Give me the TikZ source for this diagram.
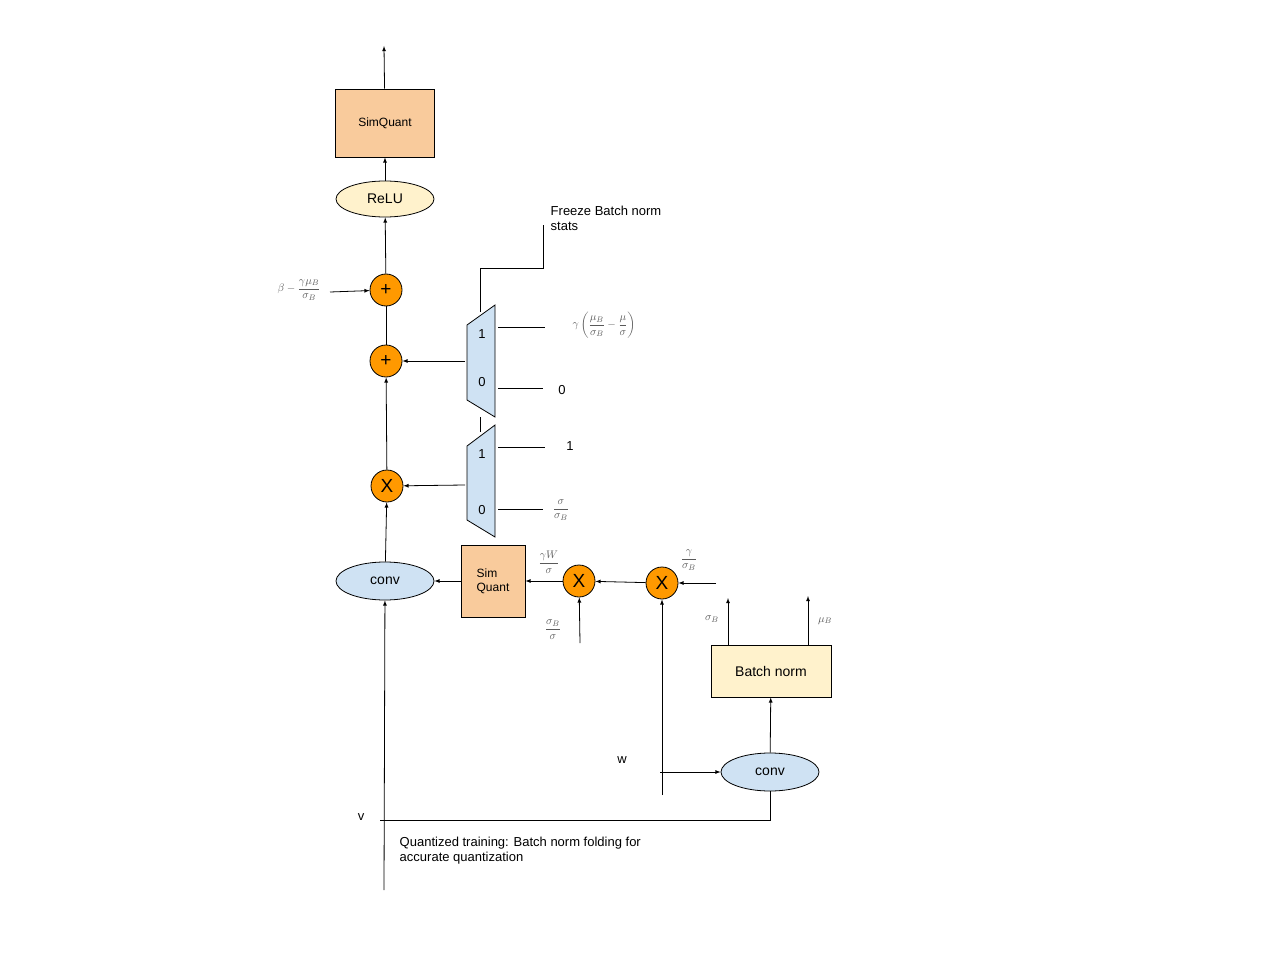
\documentclass[tikz,border=0pt]{standalone}
\usepackage{amsmath}
\usepackage{fontspec}
\setmainfont{Liberation Sans}
\usetikzlibrary{shapes.geometric}
\definecolor{quantfill}{HTML}{F9CB9C}
\definecolor{opfill}{HTML}{FF9900}
\definecolor{bnfill}{HTML}{FFF2CC}
\definecolor{convfill}{HTML}{CFE2F3}
\tikzset{
  qbox/.style={draw, fill=quantfill, font=\fontsize{12}{14}\selectfont},
  opnode/.style={draw, circle, fill=opfill, minimum size=32pt, inner sep=0pt, font=\fontsize{19}{20}\selectfont},
  convnode/.style={draw, ellipse, fill=convfill, minimum width=98pt, minimum height=38pt, inner sep=0pt, font=\fontsize{14}{16}\selectfont},
  mlabel/.style={text=gray!70!black, font=\fontsize{11}{12}\selectfont},
  plain/.style={font=\fontsize{13}{15}\selectfont},
  arr/.style={-latex}
}
\begin{document}
\begin{tikzpicture}[x=1pt, y=-1pt, line width=0.8pt, >=latex]
  \useasboundingbox (0,0) rectangle (1280,960);
  % main column
  \node[qbox, minimum width=99pt, minimum height=68pt] (sq) at (385,123) {SimQuant};
  \coordinate (out) at (384,46);
  \node[draw, ellipse, fill=bnfill, minimum width=98pt, minimum height=36pt, inner sep=0pt, font=\fontsize{14}{16}\selectfont] (relu) at (385,199) {ReLU};
  \node[opnode] (addb) at (386,290) {+};
  \node[opnode] (adds) at (386,361) {+};
  \node[opnode] (mulv) at (387,486) {X};
  \node[convnode] (convv) at (385,581) {conv};
  \draw[arr] (sq) -- (out);
  \draw[arr] (relu) -- (sq);
  \draw[arr] (addb) -- (relu);
  \draw (adds) -- (addb);
  \draw[arr] (mulv) -- (adds);
  \draw[arr] (convv) -- (mulv);
  \node[mlabel] (bias) at (299,290) {$\beta-\dfrac{\gamma\mu_B}{\sigma_B}$};
  \draw[arr] (330,292) -- (addb);
  % multiplexers
  \draw[fill=convfill] (467,325) -- (495,305) -- (495,417) -- (467,400) -- cycle;
  \draw[fill=convfill] (467,446) -- (495,425) -- (495,537) -- (467,520) -- cycle;
  \node[plain] (ma1) at (482,334) {1};
  \node[plain] (ma0) at (482,382) {0};
  \node[plain] (mb1) at (482,454) {1};
  \node[plain] (mb0) at (482,510) {0};
  \coordinate (muxa) at (465,361);
  \coordinate (muxb) at (465,485);
  \draw[arr] (muxa) -- (adds);
  \draw[arr] (muxb) -- (mulv);
  \draw (480,417) -- (480,432);
  \draw (480,312) -- (480,268) -- (543,268) -- (543,225);
  \node[plain, align=left, anchor=north west] (freeze) at (547,202) {Freeze Batch norm\\stats};
  \node[mlabel] (ina1) at (604,325) {$\gamma\left(\dfrac{\mu_B}{\sigma_B}-\dfrac{\mu}{\sigma}\right)$};
  \node[plain] (ina0) at (562,390) {0};
  \node[plain] (inb1) at (570,446) {1};
  \node[mlabel] (inb0) at (561,510) {$\dfrac{\sigma}{\sigma_B}$};
  \draw (498,327) -- (545,327);
  \draw (498,388) -- (543,388);
  \draw (498,447) -- (545,447);
  \draw (498,509) -- (543,509);
  % weight path
  \node[qbox, minimum width=64pt, minimum height=72pt, align=left] (sqw) at (493,581) {Sim\\Quant};
  \node[opnode] (mulw) at (579,581) {X};
  \node[opnode] (mulg) at (662,583) {X};
  \draw[arr] (sqw) -- (convv);
  \draw[arr] (mulw) -- (sqw);
  \draw[arr] (mulg) -- (mulw);
  \node[mlabel] (gw) at (549,562) {$\dfrac{\gamma W}{\sigma}$};
  \node[mlabel] (gs) at (689,560) {$\dfrac{\gamma}{\sigma_B}$};
  \node[mlabel] (ss) at (553,630) {$\dfrac{\sigma_B}{\sigma}$};
  \coordinate (gin) at (716,583);
  \coordinate (sin) at (580,643);
  \draw[arr] (gin) -- (mulg);
  \draw[arr] (sin) -- (mulw);
  % batch norm branch
  \node[draw, fill=bnfill, minimum width=120pt, minimum height=52pt, font=\fontsize{14}{16}\selectfont] (bn) at (771,671) {Batch norm};
  \node[convnode] (convw) at (770,772) {conv};
  \draw[arr] (convw) -- (bn);
  \coordinate (sbout) at (728,598);
  \coordinate (mbout) at (808,596);
  \draw[arr] (728,645) -- (sbout);
  \draw[arr] (808,645) -- (mbout);
  \node[mlabel] (sbl) at (712,619) {$\sigma_B$};
  \node[mlabel] (mbl) at (825,621) {$\mu_B$};
  \coordinate (win) at (662,795);
  \draw[arr] (win) -- (mulg);
  \draw[arr] (660,772) -- (convw);
  \node[plain] (wl) at (622,760) {w};
  % input
  \coordinate (vin) at (384,890);
  \draw[arr] (vin) -- (convv);
  \draw (380,820) -- (770,820) -- (convw);
  \node[plain] (vl) at (361,817) {v};
  \node[plain, align=left, anchor=north west] (cap) at (396,833) {Quantized training: Batch norm folding for\\accurate quantization};
\end{tikzpicture}
\end{document}
